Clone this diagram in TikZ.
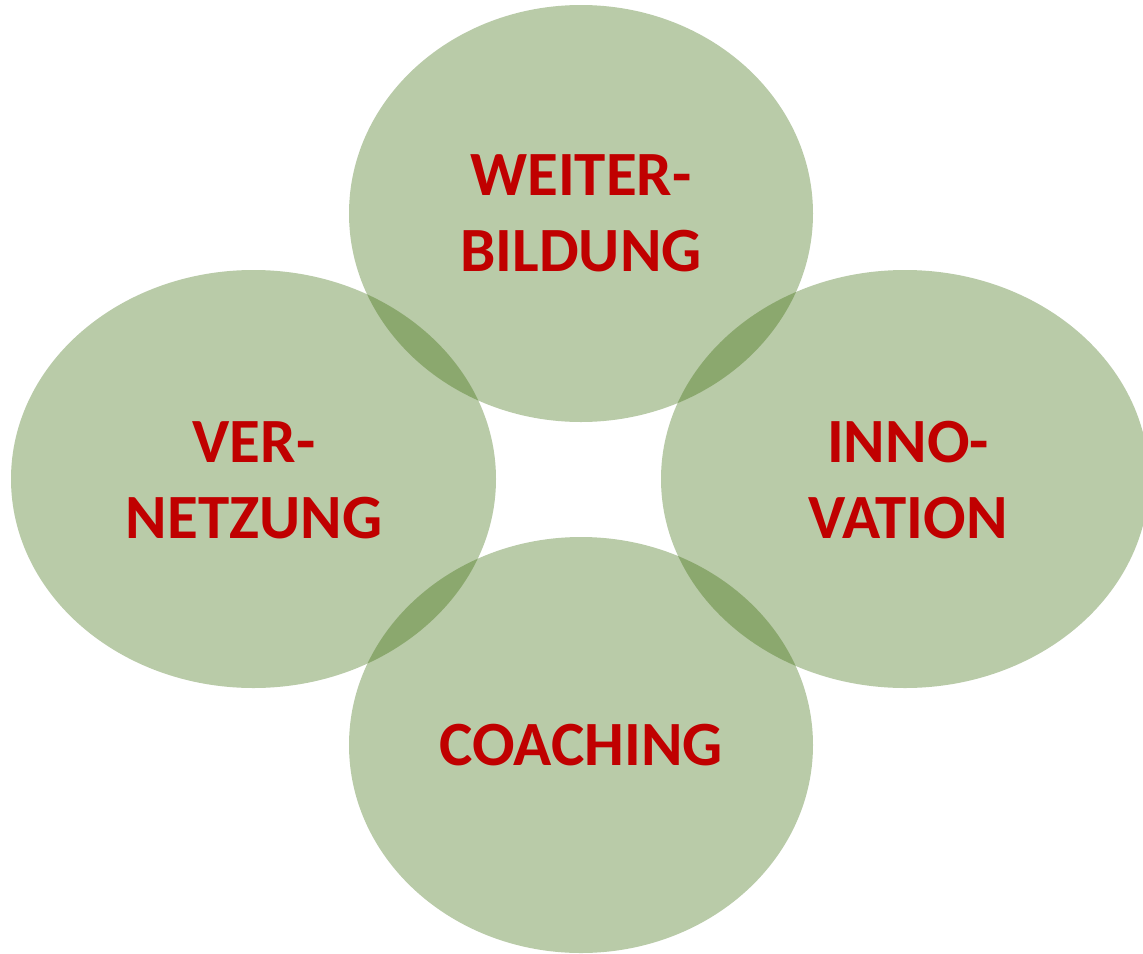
\documentclass[tikz,border=0pt]{standalone}
\usepackage{fontspec}
\setmainfont{Carlito}
\usepackage{xcolor}
\definecolor{leafgreen}{RGB}{51,103,0}
\definecolor{labelred}{RGB}{192,0,0}
\tikzset{
    bubble/.style={fill=leafgreen, fill opacity=0.34, draw=none},
    label/.style={text=labelred, align=center, font=\bfseries\fontsize{63}{76}\selectfont}
}
\begin{document}
\begin{tikzpicture}[x=1pt,y=-1pt]
        \useasboundingbox (0,0) rectangle (1143,953);
        \fill[white] (0,0) rectangle (1143,953);
        \begin{scope}
        \clip (0,0) rectangle (1143,953);
        \fill[bubble] (581,213.5) ellipse (232pt and 208.5pt);
        \fill[bubble] (253.5,479) ellipse (242.5pt and 209pt);
        \fill[bubble] (905,479) ellipse (244pt and 209pt);
        \fill[bubble] (581,745) ellipse (232pt and 208pt);
        \end{scope}
        \node[label] (weiter) at (581,213) {WEITER-\\BILDUNG};
        \node[label] (vernetz) at (254,480) {VER-\\NETZUNG};
        \node[label] (innov) at (908,480) {INNO-\\VATION};
        \node[label] (coach) at (581,745) {COACHING};
    \end{tikzpicture}
\end{document}
